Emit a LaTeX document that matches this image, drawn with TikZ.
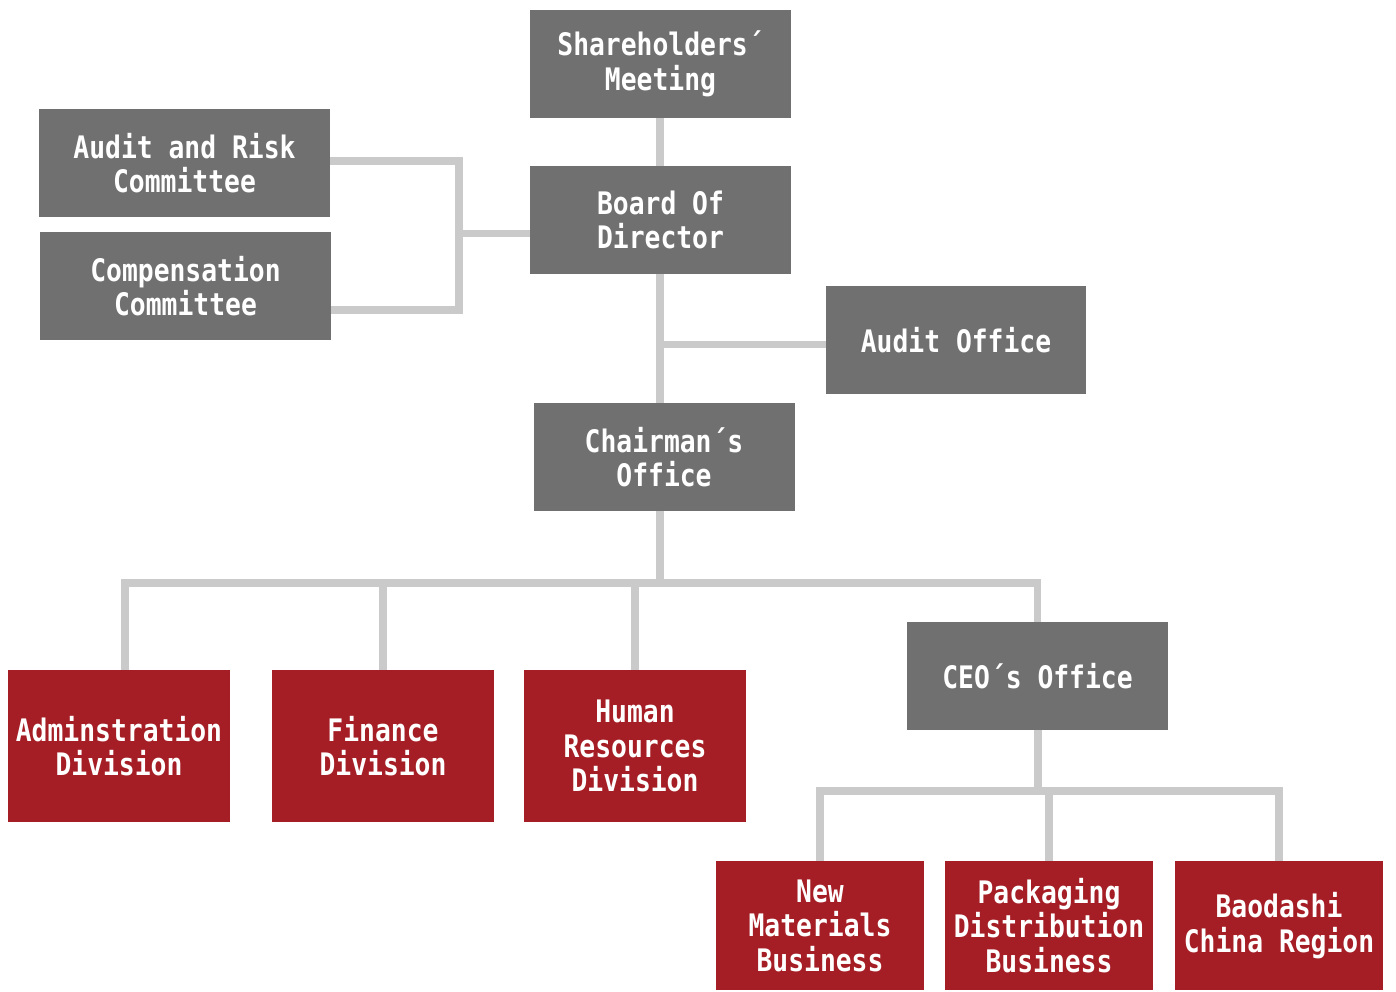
\documentclass[tikz,border=0pt]{standalone}
\usepackage{fontspec}
\newfontfamily\orgfont{DejaVu Sans Mono Bold}[FakeStretch=0.85]
\usetikzlibrary{calc}

\definecolor{boxgray}{RGB}{112,112,112}
\definecolor{boxred}{RGB}{165,30,37}
\definecolor{linkgray}{RGB}{201,202,201}

\begin{document}
\begin{tikzpicture}[x=1pt,y=-1pt,
    unit/.style={inner sep=0pt, align=center, text=white,
      font=\orgfont\fontsize{31}{34.5}\selectfont},
    office/.style={unit, fill=boxgray, minimum width=261pt, minimum height=108pt},
    division/.style={unit, fill=boxred, minimum width=222pt, minimum height=152pt},
    business/.style={unit, fill=boxred, minimum width=208pt, minimum height=129pt},
    link/.style={draw=linkgray, line width=7.5pt}]
  \useasboundingbox (0,0) rectangle (1396,991);

  % top of the tree
  \node[office] (meeting) at (660.5,64) {Shareholders´\\Meeting};
  \node[office] (board) at (660.5,220) {Board Of\\Director};
  \node[office, minimum width=291pt] (risk) at (184.5,163) {Audit and Risk\\Committee};
  \node[office, minimum width=291pt] (comp) at (185.5,286) {Compensation\\Committee};
  \node[office, minimum width=260pt] (audit) at (956,340) {Audit Office};
  \node[office] (chair) at (664,457) {Chairman´s\\Office};

  % divisions
  \node[division] (adm) at (119,746) {Adminstration\\Division};
  \node[division] (fin) at (383,746) {Finance\\Division};
  \node[division] (hr) at (635,746) {Human\\Resources\\Division};
  \node[office] (ceo) at (1037.5,676) {CEO´s Office};

  % businesses
  \node[business] (mat) at (820,925.5) {New\\Materials\\Business};
  \node[business] (pack) at (1049,925.5) {Packaging\\Distribution\\Business};
  \node[business] (bao) at (1279,925.5) {Baodashi\\China Region};

  % connectors
  \draw[link] (meeting.south -| 660,0) -- (board.north -| 660,0);
  \draw[link] (board.south -| 660,0) -- (chair.north -| 660,0);
  \draw[link] ([yshift=-4.5pt]audit.west) -- ([yshift=-4.5pt]audit.west -| 660,0);

  \coordinate (jn) at (459,233.5);
  \draw[link] ([yshift=2pt]risk.east) -| (jn) |- ([yshift=-24pt]comp.east);
  \draw[link] (jn) -- (jn -| board.west);

  \coordinate (busA) at (660,583);
  \draw[link] (chair.south -| busA) -- (busA);
  \draw[link] (busA) -| ([xshift=6pt]adm.north);
  \foreach \n in {fin,hr,ceo}
    \draw[link] (busA) -| (\n.north);

  \coordinate (busB) at (1038,791);
  \draw[link] (ceo.south -| busB) -- (busB);
  \foreach \n in {mat,pack,bao}
    \draw[link] (busB) -| (\n.north);
\end{tikzpicture}
\end{document}
